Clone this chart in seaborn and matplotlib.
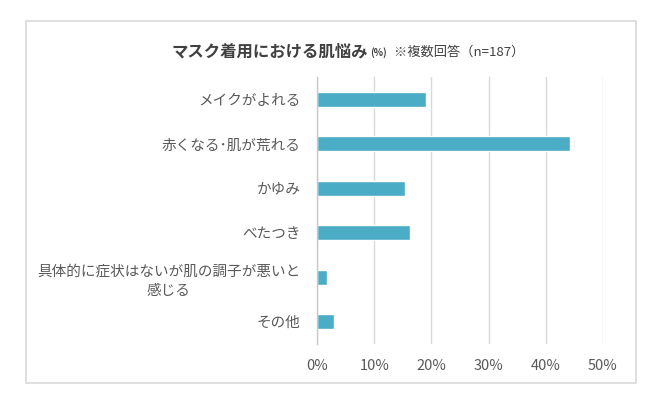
import numpy as np
import pandas as pd

import seaborn as sns
import matplotlib.pyplot as plt
from matplotlib.patches import Rectangle
from matplotlib.offsetbox import TextArea, HPacker, AnchoredOffsetbox


# データ (%)
categories = ['メイクがよれる', '赤くなる･肌が荒れる', 'かゆみ', 'べたつき',
              '具体的に症状はないが肌の調子が悪いと\n感じる', 'その他']
values = [19.1, 44.3, 15.4, 16.3, 1.8, 3.0]
xticks = [0, 10, 20, 30, 40, 50]
xtick_labels = ['0%', '10%', '20%', '30%', '40%', '50%']

sns.set_style('white')
plt.rcParams['font.family'] = ['Noto Sans CJK JP', 'DejaVu Sans']

df = pd.DataFrame({'item': categories, 'pct': values})

fig = plt.figure(figsize=(6.6, 3.95), dpi=100)
ax = fig.add_axes([317 / 660, 1 - 344 / 395, 286 / 660, 267 / 395])

sns.barplot(data=df, x='pct', y='item', orient='h', color='#4bacc6',
            saturation=1, width=0.34, ax=ax)

ax.set_xlim(0, 50)
ax.set_xticks(xticks)
ax.set_xticklabels(xtick_labels)
ax.set_xlabel('')
ax.set_ylabel('')
ax.grid(axis='x', color='#d9d9d9', linewidth=1)
ax.set_axisbelow(True)
for s in ['top', 'right', 'bottom']:
    ax.spines[s].set_visible(False)
ax.spines['left'].set_color('#c8c8c8')
ax.spines['left'].set_linewidth(1)
ax.tick_params(axis='both', length=0, labelsize=10.5, labelcolor='#595959')
ax.tick_params(axis='x', pad=11)
ax.tick_params(axis='y', pad=12)
for lab in ax.get_yticklabels():
    lab.set_multialignment('center')
    lab.set_linespacing(1.45)

# タイトル
t1 = TextArea('マスク着用における肌悩み',
              textprops=dict(fontsize=11.8, weight='bold', color='#404040'))
t2 = TextArea('(%)', textprops=dict(fontsize=7, weight='bold', color='#404040'))
t3 = TextArea('  ※複数回答（n=187）', textprops=dict(fontsize=9.5, color='#404040'))
title_box = HPacker(children=[t1, t2, t3], align='baseline', pad=0, sep=1)
anchored = AnchoredOffsetbox(loc='center', child=title_box, pad=0, frameon=False,
                             bbox_to_anchor=(348 / 660, 1 - 51 / 395),
                             bbox_transform=fig.transFigure)
fig.add_artist(anchored)

# 外枠
fig.add_artist(Rectangle((26 / 660, 1 - 383 / 395), 610 / 660, 362 / 395,
                         transform=fig.transFigure, fill=False,
                         edgecolor='#d9d9d9', linewidth=1.2))

fig.savefig('out.png', dpi=100)
